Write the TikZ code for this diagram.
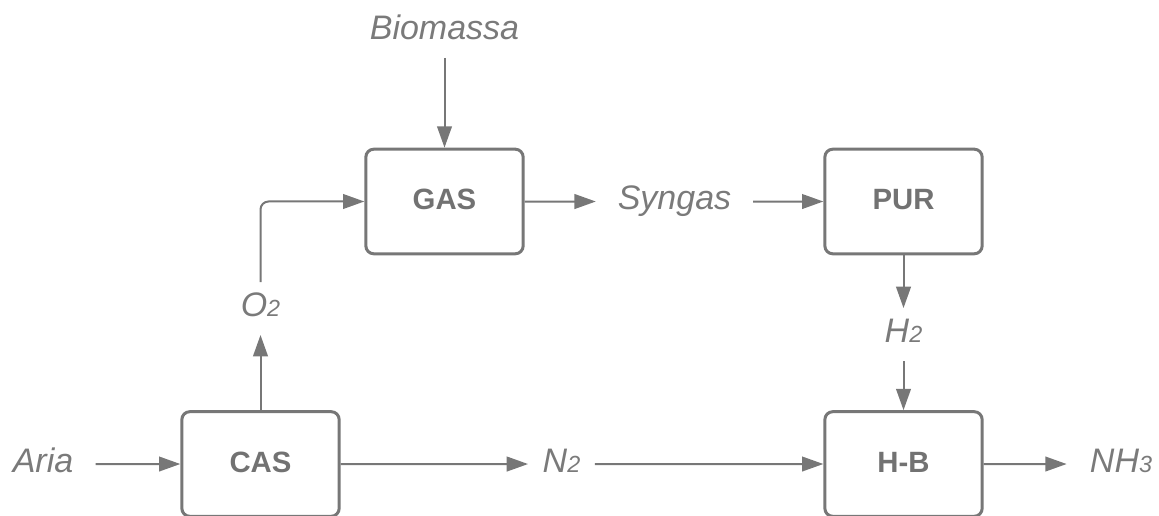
\documentclass[tikz,border=0pt]{standalone}
\usepackage{fontspec}
\setmainfont{Liberation Sans}
\usetikzlibrary{arrows.meta}
\definecolor{linec}{HTML}{777777}
\definecolor{labc}{HTML}{7A7A7A}
\definecolor{boxc}{HTML}{727272}
\newcommand{\sbs}[1]{{\fontsize{17.5pt}{17.5pt}\selectfont #1}}
\tikzset{
  procbox/.style={draw=linec, line width=2.25pt, rounded corners=6pt,
    minimum width=118pt, minimum height=78.5pt, inner sep=0pt,
    text=boxc, font=\fontsize{22pt}{24pt}\selectfont\bfseries},
  flowlab/.style={anchor=base, text=labc, inner ysep=8.5pt, outer sep=0pt,
    text height=17.7pt, text depth=5pt,
    font=\fontsize{25.5pt}{28pt}\selectfont\itshape},
  arr/.style={draw=linec, line width=1.5pt, -{Triangle[length=16pt,width=11pt]}}
}
\begin{document}
\begin{tikzpicture}[x=0.75pt, y=-0.75pt]
\useasboundingbox (0,0) rectangle (1159,516);
\clip (0,0) rectangle (1159,516);
% boxes
\node[procbox] (gas) at (444.5,201.5) {\raisebox{3pt}{GAS}};
\node[procbox] (pur) at (903.5,201.5) {\raisebox{3pt}{PUR}};
\node[procbox] (cas) at (260.5,464) {\raisebox{3pt}{CAS}};
\node[procbox] (hb)  at (903.5,464) {\raisebox{3pt}{H-B}};
% labels
\node[flowlab, inner xsep=10pt] (bio) at (444.5,40) {Biomassa};
\node[flowlab, inner xsep=16.5pt] (syn) at (674.5,210) {Syngas};
\node[flowlab, inner xsep=10pt] (o2)  at (260.5,317) {O\sbs{2}};
\node[flowlab, inner xsep=10pt] (h2)  at (903.5,343) {H\sbs{2}};
\node[flowlab, inner xsep=16.8pt] (aria) at (43,472.5) {Aria};
\node[flowlab, inner xsep=11pt] (n2)  at (561.5,472.5) {N\sbs{2}};
\node[flowlab, inner xsep=17.5pt] (nh3) at (1121,472.5) {NH\sbs{3}};
% connectors
\draw[arr] (bio) -- (gas);
\draw[arr] (gas) -- (syn);
\draw[arr] (syn) -- (pur);
\draw[arr] (pur) -- (h2);
\draw[arr] (h2) -- (hb);
\draw[arr] (aria) -- (cas);
\draw[arr] (cas) -- (o2);
\draw[arr, rounded corners=6pt] (o2.north) |- (gas.west);
\draw[arr] (cas) -- (n2);
\draw[arr] (n2) -- (hb);
\draw[arr] (hb) -- (nh3);
\end{tikzpicture}
\end{document}
